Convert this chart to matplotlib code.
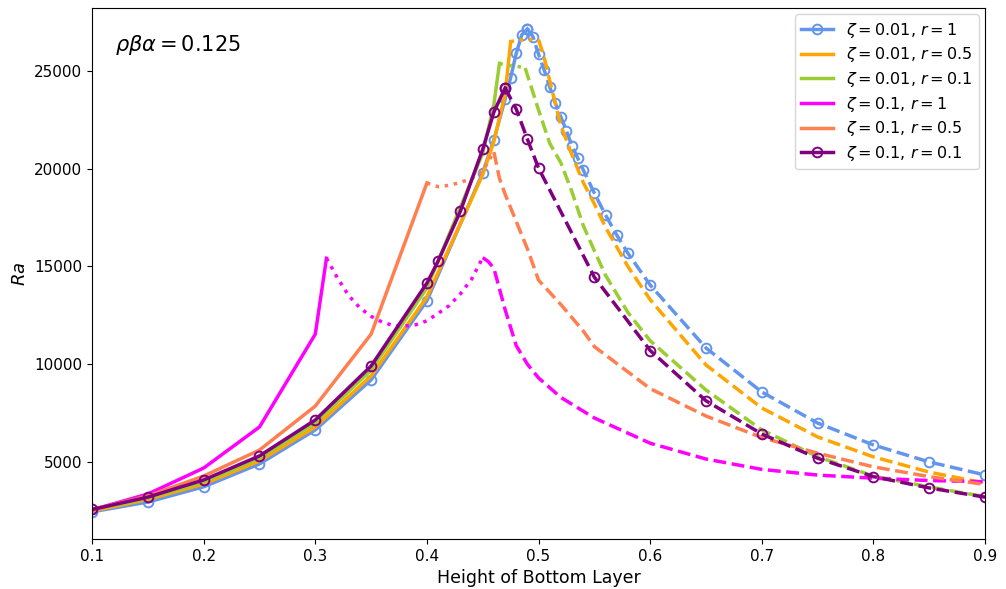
import matplotlib
matplotlib.use("Agg")
import matplotlib.pyplot as plt

# ---- data ----
# zeta=0.01, r=1 (blue)
blue_x_solid = [0.1, 0.15, 0.2, 0.25, 0.3, 0.35, 0.4, 0.45, 0.46, 0.47, 0.475, 0.48, 0.485, 0.49]
blue_y_solid = [2450, 2950, 3730, 4900, 6640, 9200, 13250, 19800, 21480, 23560, 24660, 25900, 26850, 27150]
blue_x_dash = [0.49, 0.495, 0.5, 0.505, 0.51, 0.515, 0.52, 0.525, 0.53, 0.535, 0.54, 0.55, 0.56,
               0.57, 0.58, 0.6, 0.65, 0.7, 0.75, 0.8, 0.85, 0.9]
blue_y_dash = [27150, 26750, 25850, 25050, 24180, 23360, 22650, 21930, 21160, 20550, 19940, 18750, 17630,
               16610, 15680, 14050, 10830, 8580, 6990, 5870, 5000, 4335]

# zeta=0.01, r=0.5 (orange)
orange_x_solid = [0.1, 0.15, 0.2, 0.25, 0.3, 0.35, 0.4, 0.45, 0.46, 0.47, 0.475]
orange_y_solid = [2490, 3080, 3870, 5050, 6790, 9400, 13440, 19700, 21400, 23800, 26500]
orange_x_dot = [0.475, 0.48, 0.49, 0.5]
orange_y_dot = [26500, 26560, 26620, 26600]
orange_x_dash = [0.5, 0.505, 0.51, 0.52, 0.53, 0.54, 0.55, 0.56, 0.58, 0.6, 0.65, 0.7, 0.75, 0.8, 0.85, 0.9]
orange_y_dash = [26600, 25700, 24500, 22200, 20700, 19300, 18200, 17000, 15000, 13300, 9960, 7760, 6280,
                 5260, 4480, 3920]

# zeta=0.01, r=0.1 (green)
green_x_solid = [0.1, 0.15, 0.2, 0.25, 0.3, 0.35, 0.4, 0.45, 0.46, 0.465]
green_y_solid = [2550, 3150, 3980, 5200, 7000, 9700, 13900, 20800, 23300, 25390]
green_x_dot = [0.465, 0.47, 0.48, 0.488]
green_y_dot = [25390, 25300, 25250, 25150]
green_x_dash = [0.488, 0.495, 0.5, 0.51, 0.52, 0.53, 0.54, 0.55, 0.56, 0.58, 0.6, 0.65, 0.7, 0.75, 0.8,
                0.85, 0.9]
green_y_dash = [25150, 23900, 23000, 21300, 20300, 18800, 17100, 15800, 14550, 12650, 11200, 8680, 6640,
                5270, 4280, 3720, 3225]

# zeta=0.1, r=1 (magenta)
magenta_x_solid = [0.1, 0.15, 0.2, 0.25, 0.3, 0.31]
magenta_y_solid = [2550, 3360, 4690, 6790, 11540, 15420]
magenta_x_dot = [0.31, 0.32, 0.33, 0.34, 0.35, 0.36, 0.37, 0.38, 0.39, 0.4, 0.41, 0.42, 0.43, 0.44, 0.45]
magenta_y_dot = [15420, 14400, 13500, 12880, 12450, 12150, 11980, 11950, 12020, 12220, 12600, 13000,
                 13600, 14350, 15450]
magenta_x_dash = [0.45, 0.455, 0.46, 0.47, 0.48, 0.49, 0.5, 0.52, 0.55, 0.6, 0.65, 0.7, 0.75, 0.8, 0.85, 0.9]
magenta_y_dash = [15450, 15250, 14900, 12800, 10950, 10000, 9300, 8300, 7250, 5960, 5150, 4620, 4330,
                  4170, 4050, 3990]

# zeta=0.1, r=0.5 (coral)
coral_x_solid = [0.1, 0.15, 0.2, 0.25, 0.3, 0.35, 0.4]
coral_y_solid = [2560, 3260, 4280, 5610, 7860, 11540, 19270]
coral_x_dot = [0.4, 0.41, 0.42, 0.43, 0.44, 0.45, 0.46]
coral_y_dot = [19270, 19080, 19150, 19300, 19500, 19900, 20850]
coral_x_dash = [0.46, 0.465, 0.47, 0.48, 0.49, 0.5, 0.52, 0.54, 0.55, 0.6, 0.65, 0.7, 0.75, 0.8, 0.85, 0.9]
coral_y_dash = [20850, 19500, 18700, 17300, 15900, 14300, 13050, 11700, 10900, 8750, 7350, 6250, 5450,
                4750, 4250, 3850]

# zeta=0.1, r=0.1 (purple)
purple_x_solid = [0.1, 0.15, 0.2, 0.25, 0.3, 0.35, 0.4, 0.41, 0.43, 0.45, 0.46, 0.47]
purple_y_solid = [2570, 3200, 4080, 5310, 7150, 9910, 14150, 15270, 17830, 21000, 22900, 24130]
purple_x_dash = [0.47, 0.48, 0.49, 0.5, 0.55, 0.6, 0.65, 0.7, 0.75, 0.8, 0.85, 0.9]
purple_y_dash = [24130, 23050, 21510, 20030, 14450, 10700, 8130, 6430, 5190, 4250, 3670, 3200]

labels = [r"$\zeta = 0.01$, $r = 1$", r"$\zeta = 0.01$, $r = 0.5$", r"$\zeta = 0.01$, $r = 0.1$",
          r"$\zeta = 0.1$, $r = 1$", r"$\zeta = 0.1$, $r = 0.5$", r"$\zeta = 0.1$, $r = 0.1$"]

# ---- plot ----
fig = plt.figure(figsize=(10.06, 5.89), dpi=100)
ax = fig.add_axes([0.0915, 0.0849, 0.8877, 0.9015])

lw = 2.5
mk = dict(marker="o", markersize=7, markerfacecolor="none", markeredgewidth=1.4)

series = [
    ("cornflowerblue", blue_x_solid, blue_y_solid, None, None, blue_x_dash, blue_y_dash, True),
    ("orange", orange_x_solid, orange_y_solid, orange_x_dot, orange_y_dot, orange_x_dash, orange_y_dash, False),
    ("yellowgreen", green_x_solid, green_y_solid, green_x_dot, green_y_dot, green_x_dash, green_y_dash, False),
    ("magenta", magenta_x_solid, magenta_y_solid, magenta_x_dot, magenta_y_dot, magenta_x_dash, magenta_y_dash, False),
    ("coral", coral_x_solid, coral_y_solid, coral_x_dot, coral_y_dot, coral_x_dash, coral_y_dash, False),
    ("purple", purple_x_solid, purple_y_solid, None, None, purple_x_dash, purple_y_dash, True),
]

for (c, xs, ys, xd, yd, xk, yk, marked), lab in zip(series, labels):
    kw = mk if marked else {}
    ax.plot(xs, ys, color=c, lw=lw, ls="-", label=lab, **kw)
    if xd is not None:
        ax.plot(xd, yd, color=c, lw=lw, ls=":")
    ax.plot(xk, yk, color=c, lw=lw, ls="--", **kw)

ax.set_xlim(0.1, 0.9)
ax.set_ylim(1060, 28220)
ax.set_yticks([5000, 10000, 15000, 20000, 25000])
ax.tick_params(labelsize=11)
ax.set_xlabel("Height of Bottom Layer", fontsize=12.5)
ax.set_ylabel(r"$Ra$", fontsize=13)
ax.text(0.026, 0.93, r"$\rho\beta\alpha = 0.125$", transform=ax.transAxes, fontsize=15,
        va="center", ha="left")
ax.legend(loc="upper right", fontsize=11.5, labelspacing=0.35, borderaxespad=0.4)

fig.savefig("out.png", dpi=100)
